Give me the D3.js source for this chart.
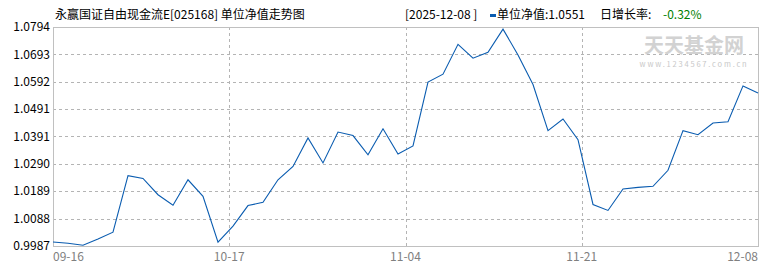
<!DOCTYPE html>
<html>
<head>
<meta charset="utf-8">
<script src="https://cdn.jsdelivr.net/npm/d3@7"></script>
<style>
  body { margin: 0; background: #fff; }
  svg text { font-family: "Noto Sans CJK SC", "DejaVu Sans", sans-serif; }
</style>
</head>
<body>
<div id="chartdiv"></div>
<script>
// net value per trading day (48 points)
const navValues = [
  1.0002, 0.9997, 0.9990, 1.0013, 1.0038, 1.0246, 1.0236, 1.0176, 1.0137, 1.0231,
  1.0170, 1.0001, 1.0060, 1.0136, 1.0148, 1.0231, 1.0280, 1.0385, 1.0293, 1.0407,
  1.0394, 1.0323, 1.0419, 1.0326, 1.0356, 1.0591, 1.0620, 1.0730, 1.0679, 1.0701,
  1.0786, 1.0691, 1.0582, 1.0412, 1.0455, 1.0379, 1.0140, 1.0118, 1.0197, 1.0203,
  1.0207, 1.0266, 1.0412, 1.0397, 1.0440, 1.0445, 1.0577, 1.0551
];
const yTicks = [0.9987, 1.0088, 1.0189, 1.0290, 1.0391, 1.0491, 1.0592, 1.0693, 1.0794];
const xTickPos = [0, 11.75, 23.5, 35.25, 47];
const xTickLabels = ["09-16", "10-17", "11-04", "11-21", "12-08"];

const titleText = "永赢国证自由现金流E[025168] 单位净值走势图";
const lastDate = "[2025-12-08 ]";
const lastNav = "单位净值:1.0551";
const growthLabel = "日增长率:";
const growthValue = "-0.32%";

let margin = {top: 27, bottom: 24, left: 53, right: 12};
let W = 770, H = 270;
let width = W - margin.left - margin.right;
let height = H - margin.top - margin.bottom;

let svg = d3.select("#chartdiv").append("svg")
            .attr("width", W)
            .attr("height", H);

let x = d3.scaleLinear().domain([0, navValues.length - 1]).range([margin.left, margin.left + width]);
let y = d3.scaleLinear().domain([yTicks[0], yTicks[yTicks.length - 1]]).range([margin.top + height, margin.top]);

const px = v => Math.round(v) + 0.5;

// grid lines (dashed)
svg.append("g").selectAll("line")
   .data(yTicks.slice(1, -1))
   .enter().append("line")
   .attr("x1", margin.left).attr("x2", margin.left + width)
   .attr("y1", d => px(y(d))).attr("y2", d => px(y(d)))
   .attr("stroke", "#b4b4b4")
   .attr("stroke-dasharray", "3,3");

svg.append("g").selectAll("line")
   .data(xTickPos.slice(1, -1))
   .enter().append("line")
   .attr("x1", d => px(x(d))).attr("x2", d => px(x(d)))
   .attr("y1", margin.top).attr("y2", margin.top + height)
   .attr("stroke", "#b4b4b4")
   .attr("stroke-dasharray", "3,3");

// plot frame
svg.append("rect")
   .attr("x", margin.left + 0.5)
   .attr("y", margin.top + 0.5)
   .attr("width", width)
   .attr("height", height)
   .attr("fill", "none")
   .attr("stroke", "#c0c0c0");

// y labels
svg.append("g").selectAll("text")
   .data(yTicks)
   .enter().append("text")
   .attr("x", margin.left - 3)
   .attr("y", d => y(d))
   .attr("dy", "0.35em")
   .attr("text-anchor", "end")
   .attr("font-size", "12px")
   .attr("fill", "#000")
   .text(d => d.toFixed(4));

// x labels
svg.append("g").selectAll("text")
   .data(xTickPos)
   .enter().append("text")
   .attr("x", d => x(d))
   .attr("y", margin.top + height + 15)
   .attr("text-anchor", (d, i) => i == 0 ? "start" : (i == xTickPos.length - 1 ? "end" : "middle"))
   .attr("font-size", "12px")
   .attr("fill", "#808080")
   .text((d, i) => xTickLabels[i]);

// watermark
svg.append("text")
   .attr("x", 694).attr("y", 53)
   .attr("text-anchor", "middle")
   .attr("font-size", "20px")
   .attr("font-weight", "bold")
   .attr("fill", "#d2d2d2")
   .text("天天基金网");
svg.append("text")
   .attr("x", 694).attr("y", 67)
   .attr("text-anchor", "middle")
   .attr("font-size", "7.5px")
   .attr("letter-spacing", "1.8px")
   .attr("fill", "#c8c8c8")
   .text("www.1234567.com.cn");

// the line
let line = d3.line()
   .x((d, i) => x(i))
   .y(d => y(d));

svg.append("path")
   .datum(navValues)
   .attr("d", line)
   .attr("fill", "none")
   .attr("stroke", "#0a5cb0")
   .attr("stroke-width", 1.1);

// header
svg.append("text")
   .attr("x", 55).attr("y", 19)
   .attr("font-size", "12px")
   .attr("fill", "#000")
   .text(titleText);

svg.append("text")
   .attr("x", 405).attr("y", 19)
   .attr("font-size", "12px")
   .attr("fill", "#000")
   .text(lastDate);

svg.append("rect")
   .attr("x", 490).attr("y", 14)
   .attr("width", 6).attr("height", 3)
   .attr("fill", "#0a5cb0");

svg.append("text")
   .attr("x", 497).attr("y", 19)
   .attr("font-size", "12px")
   .attr("fill", "#000")
   .text(lastNav);

svg.append("text")
   .attr("x", 600).attr("y", 19)
   .attr("font-size", "12px")
   .attr("fill", "#000")
   .text(growthLabel);

svg.append("text")
   .attr("x", 663).attr("y", 19)
   .attr("font-size", "12px")
   .attr("fill", "#008000")
   .text(growthValue);
</script>
</body>
</html>
